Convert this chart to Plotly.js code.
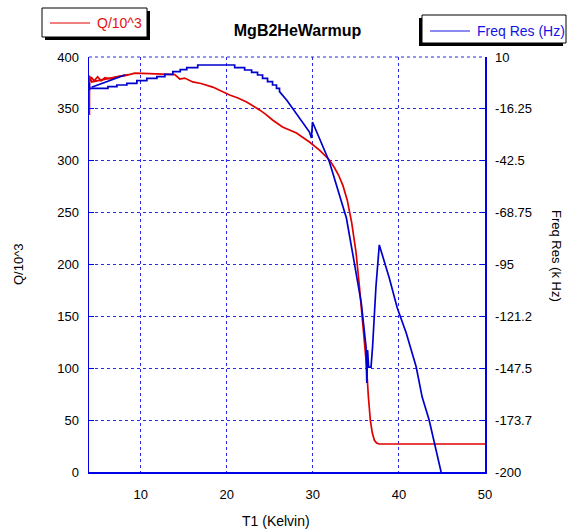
<!DOCTYPE html>
<html>
<head>
<meta charset="utf-8">
<script src="https://cdn.plot.ly/plotly-3.0.1.min.js"></script>
<style>html,body{margin:0;padding:0;background:#fff}#chart{width:569px;height:531px}</style>
</head>
<body>
<div id="chart"></div>
<script>
// Q/10^3 vs T1
const qT = [4.05, 4.05, 4.3, 8.5, null,
  4.12, 4.3, 4.6, 5.0, 5.4, 5.85, 6.5, 7.3, 8.2, 9.33, 11.0, 13.15, 13.97, 14.54, 15.12, 16.05, 17.0, 18.37, 19.53, 20.34, 21.3, 22.31, 23.81, 24.5, 25.32, 26.48, 28.10, 29.61, 30.8, 31.93, 32.5, 33.0, 33.5, 34.0, 34.5, 35.0, 35.4, 35.75, 36.21, 36.45, 36.68, 36.9, 37.14, 37.4, 37.72, 50.0];
const qVal = [344, 382, 376, 383, null,
  379, 380, 377, 381, 377, 380, 379, 381, 382, 384.5, 384, 383.5, 383, 378.8, 379.7, 376, 374.5, 371, 366.3, 363.4, 360.5, 356.6, 349, 345, 339.3, 332.5, 326.8, 318.1, 310, 300.7, 293.5, 286, 276, 262, 241, 213, 180, 147, 105.1, 73, 50, 38, 30.8, 28, 27, 27];

// Freq Res vs T1
const fT = [4.3, 8.17, null,
  4.05, 4.05, 4.12, 6.20, 6.20, 7.24, 7.24, 8.40, 8.40, 9.56, 9.56, 10.72, 10.72, 11.88, 11.88, 12.81, 12.81, 13.74, 13.74, 14.6, 14.6, 15.36, 15.36, 16.63, 16.63,
  20.92, 20.92, 22.08, 22.08, 22.89, 22.89, 23.58, 23.58, 24.16, 24.16, 24.74, 24.74, 25.32, 25.32, 25.78, 25.78, 26.13, 26.13,
  27.0, 27.64, 28.80, 29.61, 29.84, 29.96, 31.93, 33.90, 34.82, 35.63, 36.18, 36.27, 36.36, 36.48, 36.76, 36.94, 37.33, 37.72, 38.88, 39.81, 40.85, 42.01, 42.70, 43.51, 44.90];
const fVal = [-5.3, 0.9, null,
  -3.0, -6.7, -5.84, -5.84, -5.03, -5.03, -4.17, -4.17, -3.31, -3.31, -1.99, -1.99, -0.78, -0.78, 0.03, 0.03, 1.25, 1.25, 2.56, 2.56, 3.6, 3.6, 4.59, 4.59, 5.95,
  5.95, 4.59, 4.59, 3.42, 3.42, 2.26, 2.26, 0.89, 0.89, -0.78, -0.78, -2.50, -2.50, -4.17, -4.17, -5.84, -5.84, -7.5,
  -12.0, -15.8, -22.9, -28.0, -31.0, -22.9, -43.1, -71.5, -94.2, -114.5, -136.6, -155.0, -138.3, -146.9, -146.9, -136.7, -106.4, -85.1, -101.8, -117.0, -129.7, -146.9, -162.1, -173.7, -200];

const xTicks = [10, 20, 30, 40, 50];
const y2Ticks = [10, -16.25, -42.5, -68.75, -95, -121.25, -147.5, -173.75, -200];
const y2TickText = ['10', '-16.25', '-42.5', '-68.75', '-95', '-121.2', '-147.5', '-173.7', '-200'];

const L = 89, R = 485, T = 57, B = 472;
const W = 569, H = 531;
const px = v => (v - L) / (R - L);
const py = v => (B - v) / (B - T);

const FONT = 'Liberation Sans, Arial, sans-serif';
const GRID = 'rgb(40,40,235)';
const AXIS = 'rgb(0,0,230)';

const traces = [
  {x: qT, y: qVal, type: 'scatter', mode: 'lines', name: 'Q/10^3',
   line: {color: 'rgb(225,0,0)', width: 1.7}, connectgaps: false, yaxis: 'y', showlegend: false},
  {x: fT, y: fVal, type: 'scatter', mode: 'lines', name: 'Freq Res (Hz)',
   line: {color: 'rgb(0,0,205)', width: 1.7}, connectgaps: false, yaxis: 'y2', showlegend: false}
];

const layout = {
  width: W, height: H,
  margin: {l: L, r: W - R, t: T, b: H - B, pad: 0},
  paper_bgcolor: '#fff', plot_bgcolor: '#fff',
  font: {family: FONT, size: 13, color: '#000'},
  showlegend: false,
  title: {text: '<b>MgB2HeWarmup</b>', font: {family: FONT, size: 16, color: '#000'},
          xref: 'paper', x: px(297.5), xanchor: 'center', yref: 'container', y: 1 - 30 / H, yanchor: 'middle'},
  xaxis: {range: [4, 50], tickvals: xTicks, ticks: '', showline: true, linecolor: AXIS, linewidth: 1.5,
          showgrid: true, gridcolor: GRID, griddash: 'dot', gridwidth: 1, zeroline: false,
          tickfont: {family: FONT, size: 13}, ticklabelstandoff: 10},
  yaxis: {range: [0, 400], dtick: 50, tick0: 0, ticks: 'inside', ticklen: 5, tickcolor: AXIS,
          showline: true, linecolor: AXIS, linewidth: 1.5, showgrid: true, gridcolor: GRID, griddash: 'dot',
          gridwidth: 1, zeroline: false, tickfont: {family: FONT, size: 13}, ticklabelstandoff: 6},
  yaxis2: {range: [-200, 10], overlaying: 'y', side: 'right', tickvals: y2Ticks, ticktext: y2TickText,
           ticks: 'inside', ticklen: 5, tickcolor: AXIS, showline: true, linecolor: AXIS, linewidth: 1.5,
           showgrid: false, zeroline: false, tickfont: {family: FONT, size: 13}, ticklabelstandoff: 6},
  shapes: [
    {type: 'line', xref: 'paper', yref: 'paper', x0: 0, x1: 1, y0: 1, y1: 1, line: {color: GRID, width: 1, dash: 'dot'}},
    {type: 'rect', xref: 'paper', yref: 'paper', x0: px(45), x1: px(150), y0: py(11), y1: py(40), fillcolor: '#000', line: {width: 0}},
    {type: 'rect', xref: 'paper', yref: 'paper', x0: px(42), x1: px(147), y0: py(8), y1: py(37), fillcolor: '#fff', line: {color: '#000', width: 1}},
    {type: 'line', xref: 'paper', yref: 'paper', x0: px(50), x1: px(90), y0: py(23), y1: py(23), line: {color: 'rgb(225,0,0)', width: 1}},
    {type: 'rect', xref: 'paper', yref: 'paper', x0: px(419), x1: px(563), y0: py(18), y1: py(46), fillcolor: '#000', line: {width: 0}},
    {type: 'rect', xref: 'paper', yref: 'paper', x0: px(422), x1: px(566), y0: py(15), y1: py(43), fillcolor: '#fff', line: {color: '#000', width: 1}},
    {type: 'line', xref: 'paper', yref: 'paper', x0: px(430), x1: px(470), y0: py(31), y1: py(31), line: {color: 'rgb(20,20,225)', width: 1}}
  ],
  annotations: [
    {text: 'Q/10^3', xref: 'paper', yref: 'paper', x: px(95), y: py(23), xanchor: 'left', yanchor: 'middle',
     showarrow: false, font: {family: FONT, size: 14, color: 'rgb(225,20,20)'}},
    {text: 'Freq Res (Hz)', xref: 'paper', yref: 'paper', x: px(475), y: py(31), xanchor: 'left', yanchor: 'middle',
     showarrow: false, font: {family: FONT, size: 14, color: 'rgb(20,20,225)'}},
    {text: 'T1 (Kelvin)', xref: 'paper', yref: 'paper', x: px(276), y: py(521), xanchor: 'center', yanchor: 'middle',
     showarrow: false, font: {family: FONT, size: 14, color: '#000'}},
    {text: 'Q/10^3', xref: 'paper', yref: 'paper', x: px(18), y: py(264), xanchor: 'center', yanchor: 'middle',
     textangle: -90, showarrow: false, font: {family: FONT, size: 13, color: '#000'}},
    {text: 'Freq Res (k Hz)', xref: 'paper', yref: 'paper', x: px(557), y: py(256), xanchor: 'center', yanchor: 'middle',
     textangle: 90, showarrow: false, font: {family: FONT, size: 13, color: '#000'}}
  ]
};

Plotly.newPlot('chart', traces, layout, {displayModeBar: false, staticPlot: true});
</script>
</body>
</html>
